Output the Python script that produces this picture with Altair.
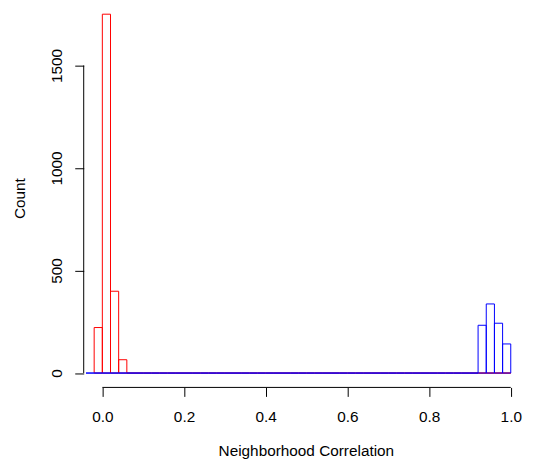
import altair as alt
import pandas as pd

# Histogram data (bin width 0.02)
bin_width = 0.02
red_start = -0.02
red_counts = [222, 1750, 399, 65] + [0] * 47          # bins -0.02 .. 1.00
blue_start = -0.04
blue_counts = [0] * 48 + [233, 337, 243, 142]          # bins -0.04 .. 1.00

x_ticks = [0.0, 0.2, 0.4, 0.6, 0.8, 1.0]
y_ticks = [0, 500, 1000, 1500]


def make_df(start, counts, group):
    rows = []
    for i, c in enumerate(counts):
        lo = round(start + bin_width * i, 4)
        rows.append({"lo": lo, "hi": round(lo + bin_width, 4), "count": c, "zero": 0, "g": group})
    return pd.DataFrame(rows)


red_df = make_df(red_start, red_counts, "red")
blue_df = make_df(blue_start, blue_counts, "blue")

FONT = "Liberation Sans"
FS = 15.4
W, H = 446, 380

xscale = alt.Scale(domain=[-0.0456, 1.0422], nice=False, zero=False)
yscale = alt.Scale(domain=[-70, 1776], nice=False, zero=False)

xaxis = alt.Axis(
    values=x_ticks, format=".1f", domain=False, grid=False,
    tickSize=9, tickColor="black", tickWidth=1,
    labelFont=FONT, labelFontSize=FS, labelColor="black", labelPadding=13,
    title="Neighborhood Correlation", titleFont=FONT, titleFontSize=FS,
    titleFontWeight="normal", titleColor="black", titlePadding=19,
)
yaxis = alt.Axis(
    values=y_ticks, format="d", domain=False, grid=False,
    tickSize=9, tickColor="black", tickWidth=1,
    labelFont=FONT, labelFontSize=FS, labelColor="black", labelPadding=13,
    labelAngle=270, labelAlign="center", labelBaseline="alphabetic",
    title="Count", titleFont=FONT, titleFontSize=FS,
    titleFontWeight="normal", titleColor="black", titlePadding=22,
)


def hist_layer(df, color):
    return alt.Chart(df).mark_rect(
        stroke=color, strokeWidth=1, fillOpacity=0, fill="white"
    ).encode(
        x=alt.X("lo:Q", scale=xscale, axis=xaxis),
        x2="hi:Q",
        y=alt.Y("zero:Q", scale=yscale, axis=yaxis),
        y2="count:Q",
    )


red = hist_layer(red_df, "red")
blue = hist_layer(blue_df, "blue")

axis_df = pd.DataFrame({"x0": [0.0], "x1": [1.0], "y0": [0], "y1": [1500]})
x_line = alt.Chart(axis_df).mark_rule(color="black", strokeWidth=1).encode(
    x=alt.X("x0:Q", scale=xscale, axis=xaxis), x2="x1:Q", y=alt.value(H)
)
y_line = alt.Chart(axis_df).mark_rule(color="black", strokeWidth=1).encode(
    x=alt.value(0), y=alt.Y("y0:Q", scale=yscale, axis=yaxis), y2="y1:Q"
)

chart = alt.layer(red, blue, x_line, y_line).properties(
    width=W, height=H,
    background="white",
    autosize=alt.AutoSizeParams(type="none"),
    padding={"left": 76, "top": 0, "right": 0, "bottom": 73},
).configure_view(strokeWidth=0, stroke="transparent", clip=False)

chart.save("out.html", embed_options={"renderer": "svg", "actions": False})
